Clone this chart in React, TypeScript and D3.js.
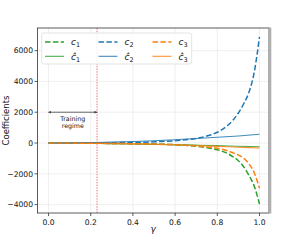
import React from "react";
import * as d3 from "d3";

const gammas = [0, 0.1, 0.2, 0.3, 0.4, 0.5, 0.6, 0.65, 0.7, 0.75, 0.8, 0.85, 0.875, 0.9, 0.925, 0.95, 0.975, 1.0];
const c1 = [0, -5, -15, -25, -40, -65, -110, -150, -210, -300, -440, -690, -900, -1150, -1540, -2100, -2800, -3960];
const c2 = [0, 5, 10, 20, 40, 80, 150, 210, 300, 450, 700, 1150, 1500, 1950, 2550, 3300, 4600, 6900];
const c3 = [0, -5, -15, -25, -45, -65, -110, -145, -195, -260, -345, -510, -640, -780, -990, -1350, -1930, -2940];

const gammasHat = [0, 0.1, 0.2, 0.3, 0.4, 0.5, 0.6, 0.7, 0.8, 0.9, 1.0];
const c1Hat = [0, -10, -20, -40, -60, -85, -110, -140, -170, -205, -240];
const c2Hat = [0, 10, 30, 60, 100, 145, 215, 290, 370, 460, 565];
const c3Hat = [0, -10, -25, -45, -65, -90, -125, -165, -215, -270, -325];

const xTicks = [0, 0.2, 0.4, 0.6, 0.8, 1.0];
const yTicks = [-4000, -2000, 0, 2000, 4000, 6000];
const trainingEnd = 0.23;
const arrowY = 2000;

const colors = { g: "#2ca02c", b: "#1f77b4", o: "#ff7f0e" };

export default function App() {
  const W = 300, H = 240;
  const L = 37.5, R = 269, T = 28, B = 213;
  const x = d3.scaleLinear().domain([-0.0523, 1.045]).range([L, R]);
  const y = d3.scaleLinear().domain([-4545, 7470]).range([B, T]);
  const line = (xs: number[], ys: number[]) =>
    d3.line<number>().x((_, i) => x(xs[i])).y((d) => y(d)).curve(d3.curveMonotoneX)(ys) || "";
  const font = "DejaVu Sans, sans-serif";
  const dash = "5.5,2.4";

  const series = [
    { xs: gammasHat, ys: c1Hat, color: colors.g, dashed: false },
    { xs: gammasHat, ys: c3Hat, color: colors.o, dashed: false },
    { xs: gammasHat, ys: c2Hat, color: colors.b, dashed: false },
    { xs: gammas, ys: c1, color: colors.g, dashed: true },
    { xs: gammas, ys: c2, color: colors.b, dashed: true },
    { xs: gammas, ys: c3, color: colors.o, dashed: true },
  ];

  const legendCols = [
    { x: 45, color: colors.g, sub: "1" },
    { x: 98.5, color: colors.b, sub: "2" },
    { x: 152.5, color: colors.o, sub: "3" },
  ];

  return (
    <svg width={W} height={H} style={{ position: "absolute", left: 0, top: 0, background: "#fff" }} fontFamily={font}>
      <defs>
        <clipPath id="plot">
          <rect x={L} y={T} width={R - L} height={B - T} />
        </clipPath>
      </defs>
      {/* grid */}
      {xTicks.map((t) => (
        <line key={"gx" + t} x1={x(t)} x2={x(t)} y1={T} y2={B} stroke="#ebebeb" strokeWidth={0.8} />
      ))}
      {yTicks.map((t) => (
        <line key={"gy" + t} x1={L} x2={R} y1={y(t)} y2={y(t)} stroke="#ebebeb" strokeWidth={0.8} />
      ))}
      {/* training regime line */}
      <line x1={x(trainingEnd)} x2={x(trainingEnd)} y1={T} y2={B} stroke="#e8737a" strokeWidth={1} strokeDasharray="1.5,1.2" />
      {/* curves */}
      <g clipPath="url(#plot)">
        {series.map((s, i) => (
          <path
            key={i}
            d={line(s.xs, s.ys)}
            fill="none"
            stroke={s.color}
            strokeWidth={s.dashed ? 1.5 : 1.1}
            strokeOpacity={s.dashed ? 1 : 0.85}
            strokeDasharray={s.dashed ? dash : undefined}
          />
        ))}
      </g>
      {/* arrow */}
      <defs>
        <marker id="ah" viewBox="0 0 6 6" refX="5" refY="3" markerWidth="4" markerHeight="4" orient="auto-start-reverse">
          <path d="M0,0.5 L6,3 L0,5.5 z" fill="#444" />
        </marker>
      </defs>
      <line x1={x(0)} x2={x(trainingEnd)} y1={y(arrowY)} y2={y(arrowY)} stroke="#444" strokeWidth={0.8} markerStart="url(#ah)" markerEnd="url(#ah)" />
      <text x={(x(0) + x(trainingEnd)) / 2} y={y(arrowY) + 8.5} fontSize={6.3} textAnchor="middle" fill="#111">Training</text>
      <text x={(x(0) + x(trainingEnd)) / 2} y={y(arrowY) + 15.5} fontSize={6.3} textAnchor="middle" fill="#111">regime</text>
      {/* frame */}
      <rect x={L} y={T} width={R - L} height={B - T} fill="none" stroke="#333" strokeWidth={0.8} />
      <rect x={R - 0.5} y={T - 0.5} width={2.8} height={B - T + 1} fill="#b0b0b0" />
      {/* ticks */}
      {xTicks.map((t) => (
        <g key={"tx" + t}>
          <line x1={x(t)} x2={x(t)} y1={B} y2={B + 3} stroke="#333" strokeWidth={0.8} />
          <text x={x(t)} y={B + 12} fontSize={7.6} textAnchor="middle" fill="#111">{t.toFixed(1)}</text>
        </g>
      ))}
      {yTicks.map((t) => (
        <g key={"ty" + t}>
          <line x1={L - 3} x2={L} y1={y(t)} y2={y(t)} stroke="#333" strokeWidth={0.8} />
          <text x={L - 4.5} y={y(t) + 2.8} fontSize={7.6} textAnchor="end" fill="#111">{t < 0 ? "\u2212" + Math.abs(t) : String(t)}</text>
        </g>
      ))}
      {/* axis labels */}
      <text x={(L + R) / 2} y={232} fontSize={9} fontStyle="italic" textAnchor="middle" fill="#111">γ</text>
      <text transform={`translate(8.5,${(T + B) / 2}) rotate(-90)`} fontSize={8.5} textAnchor="middle" fill="#111">Coefficients</text>
      {/* legend */}
      <rect x={41.7} y={33} width={150} height={31} rx={2} fill="#fff" fillOpacity={0.85} stroke="#dcdcdc" strokeWidth={0.8} />
      {legendCols.map((c) => (
        <g key={c.sub}>
          <line x1={c.x} x2={c.x + 19} y1={42} y2={42} stroke={c.color} strokeWidth={1.5} strokeDasharray={dash} />
          <line x1={c.x} x2={c.x + 19} y1={56.3} y2={56.3} stroke={c.color} strokeWidth={1.1} strokeOpacity={0.85} />
          <text x={c.x + 26} y={45} fontSize={9} fill="#111">
            <tspan fontStyle="italic">c</tspan>
            <tspan fontSize={6.5} dy={2}>{c.sub}</tspan>
          </text>
          <text x={c.x + 26} y={59.5} fontSize={9} fill="#111">
            <tspan fontStyle="italic">ĉ</tspan>
            <tspan fontSize={6.5} dy={2}>{c.sub}</tspan>
          </text>
        </g>
      ))}
    </svg>
  );
}
